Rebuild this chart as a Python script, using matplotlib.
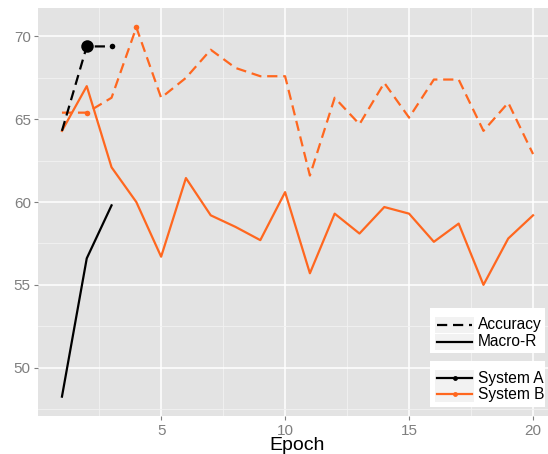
from matplotlib import pyplot as plt
from matplotlib.patches import Rectangle
from matplotlib.lines import Line2D

plt.rcParams['font.family'] = ['Liberation Sans', 'DejaVu Sans']

# Data
EPOCHS_A = [1, 2, 3]
ACC_A = [64.3, 69.4, 69.4]
MACRO_A = [48.25, 56.6, 59.8]

EPOCHS_B = list(range(1, 21))
ACC_B = [65.4, 65.4, 66.3, 70.55, 66.3, 67.5, 69.2, 68.1, 67.6, 67.6,
         61.6, 66.3, 64.7, 67.2, 65.1, 67.4, 67.4, 64.3, 66.0, 62.9]
MACRO_B = [64.3, 67.0, 62.1, 60.0, 56.7, 61.45, 59.2, 58.5, 57.7, 60.6,
           55.7, 59.3, 58.1, 59.7, 59.3, 57.6, 58.7, 55.0, 57.8, 59.2]

# highlighted points
PTS_A_X = [2, 3]
PTS_A_Y = [69.4, 69.4]
PTS_A_SIZE = [9, 4]
PTS_B_X = [2, 4]
PTS_B_Y = [65.4, 70.55]

BLACK = '#000000'
ORANGE = '#FF671F'
GREY90 = '#E3E3E3'
GREY95 = '#F2F2F2'
GREY50 = '#7F7F7F'

W, H = 548, 454
fig = plt.figure(figsize=(W / 100, H / 100), dpi=100)

x0, x1 = 0.05, 20.95
y0, y1 = 47.08, 71.72
px_left, px_right = 38.4, 556.6
px_top, px_bottom = 8, 416
ax = fig.add_axes([px_left / W, 1 - px_bottom / H,
                   (px_right - px_left) / W, (px_bottom - px_top) / H])
ax.set_facecolor(GREY90)
ax.set_xlim(x0, x1)
ax.set_ylim(y0, y1)
for s in ax.spines.values():
  s.set_visible(False)

ax.set_xticks([5, 10, 15, 20])
ax.set_yticks([50, 55, 60, 65, 70])
ax.set_xticks([2.5, 7.5, 12.5, 17.5], minor=True)
ax.set_yticks([47.5, 52.5, 57.5, 62.5, 67.5], minor=True)
ax.grid(True, which='major', color='white', linewidth=1.1)
ax.grid(True, which='minor', color=GREY95, linewidth=0.6)
ax.set_axisbelow(True)
ax.tick_params(which='major', colors=GREY50, labelsize=11, length=3, width=0.8,
               labelcolor=GREY50, pad=2.5)
ax.tick_params(which='minor', length=0)
ax.set_xlabel('Epoch', fontsize=14, labelpad=-0.3)

lw = 1.6
dash = (0, (4.6, 2.6))
ax.plot(EPOCHS_B, ACC_B, color=ORANGE, linewidth=lw, linestyle=dash)
ax.plot(EPOCHS_B, MACRO_B, color=ORANGE, linewidth=lw)
ax.plot(EPOCHS_A, ACC_A, color=BLACK, linewidth=lw, linestyle=dash)
ax.plot(EPOCHS_A, MACRO_A, color=BLACK, linewidth=lw)
for x, y, s in zip(PTS_A_X, PTS_A_Y, PTS_A_SIZE):
  ax.plot([x], [y], 'o', color=BLACK, markersize=s, markeredgewidth=0)
ax.plot(PTS_B_X, PTS_B_Y, 'o', color=ORANGE, markersize=4, markeredgewidth=0)

# legends drawn in pixel coordinates
lax = fig.add_axes([0, 0, 1, 1], facecolor='none')
lax.set_xlim(0, W)
lax.set_ylim(H, 0)
lax.axis('off')

def legend_box(top, bottom, rows):
  lax.add_patch(Rectangle((430, top), 115, bottom - top, facecolor='white',
                          edgecolor='none'))
  for ytop, label, color, style, marker in rows:
    lax.add_patch(Rectangle((435, ytop), 39, 16, facecolor=GREY95, edgecolor='none'))
    yc = ytop + 8
    lax.add_line(Line2D([437, 472], [yc, yc], color=color, linewidth=lw,
                        linestyle=style))
    if marker:
      lax.add_line(Line2D([454.5], [yc], color=color, marker='o', markersize=3.5,
                          markeredgewidth=0))
    lax.text(478, yc, label, fontsize=11.2, va='center', ha='left', color=BLACK)

legend_box(308, 353, [(317, 'Accuracy', BLACK, (0, (4.6, 2.6)), False),
                      (334, 'Macro-R', BLACK, '-', False)])
legend_box(361, 407, [(370, 'System A', BLACK, '-', True),
                      (386, 'System B', ORANGE, '-', True)])

fig.savefig('out.png', dpi=100)
